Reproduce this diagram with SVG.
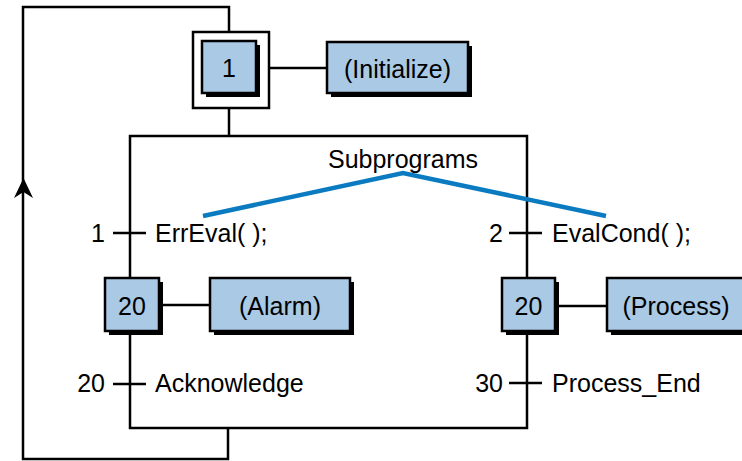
<svg xmlns="http://www.w3.org/2000/svg" width="742" height="461" viewBox="0 0 742 461">
<defs>
<style>
.ln{stroke:#000;stroke-width:2.5;fill:none}
.box{fill:#a9c9e5;stroke:#000;stroke-width:2.5}
.sh{fill:#000}
.t{font-family:"Liberation Sans",Arial,sans-serif;font-size:25px;fill:#000}
.c{text-anchor:middle}
.e{text-anchor:end}
</style>
</defs>
<rect width="742" height="461" fill="#fff"/>
<g id="connectors">
<path class="ln" d="M229,136 V108"/>
<path class="ln" d="M229,32 V7 H23 V459 H228 V428"/>
<path d="M23.5,178 L33,198 L23.5,192 L14,198 Z" fill="#000"/>
<path class="ln" d="M130,136 H527 V428 H130 Z"/>
<path class="ln" d="M269,68 H327"/>
<path class="ln" d="M159,305 H210"/>
<path class="ln" d="M554,306 H607"/>
<path class="ln" d="M113,233 H146 M113,384 H146 M509,233 H542 M509,383 H542"/>
<path d="M203,216 L403,173 L606,216" stroke="#0a7bc1" stroke-width="4.5" fill="none"/>
</g>
<g id="step1">
<rect x="193" y="32" width="76" height="76" fill="#fff" stroke="#000" stroke-width="2.5"/>
<rect class="sh" x="206" y="45" width="54" height="52"/>
<rect class="box" x="202" y="41" width="54" height="52"/>
<text class="t c" x="229" y="77">1</text>
</g>
<g id="initialize">
<rect class="sh" x="331" y="46" width="141" height="51"/>
<rect class="box" x="327" y="42" width="141" height="51"/>
<text class="t c" x="397.5" y="78">(Initialize)</text>
</g>
<g id="step20a">
<rect class="sh" x="109" y="282" width="54" height="53"/>
<rect class="box" x="105" y="278" width="54" height="53"/>
<text class="t c" x="132" y="315">20</text>
</g>
<g id="alarm">
<rect class="sh" x="214" y="282" width="140" height="53"/>
<rect class="box" x="210" y="278" width="140" height="53"/>
<text class="t c" x="280" y="315">(Alarm)</text>
</g>
<g id="step20b">
<rect class="sh" x="506" y="282" width="53" height="53"/>
<rect class="box" x="502" y="278" width="53" height="53"/>
<text class="t c" x="528.5" y="315">20</text>
</g>
<g id="process">
<rect class="sh" x="611" y="282" width="140" height="53"/>
<rect class="box" x="607" y="278" width="140" height="53"/>
<text class="t c" x="676" y="315">(Process)</text>
</g>
<g id="labels">
<text class="t c" x="403" y="168">Subprograms</text>
<text class="t e" x="105" y="242">1</text>
<text class="t" x="155" y="242">ErrEval( );</text>
<text class="t e" x="503" y="242">2</text>
<text class="t" x="552" y="242">EvalCond( );</text>
<text class="t e" x="105" y="392">20</text>
<text class="t" x="155" y="392">Acknowledge</text>
<text class="t e" x="503" y="392">30</text>
<text class="t" x="552" y="392">Process_End</text>
</g>
</svg>
